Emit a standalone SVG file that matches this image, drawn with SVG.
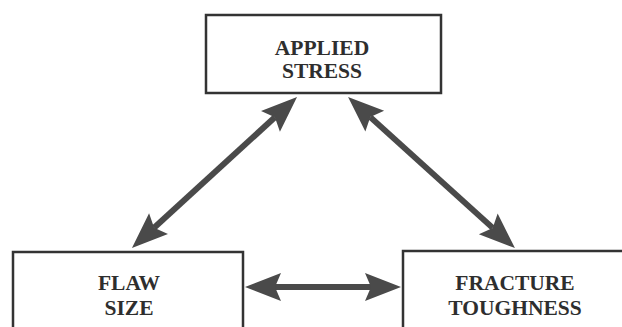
<svg xmlns="http://www.w3.org/2000/svg" width="622" height="327" viewBox="0 0 622 327">
<style>
.box{fill:#fff;stroke:#333;stroke-width:2.5}
.lbl{font-family:"Liberation Serif","DejaVu Serif",serif;font-weight:bold;font-size:21.5px;fill:#2e2e2e;text-anchor:middle}
.arr{stroke:#4a4a4a;stroke-width:6;fill:none;marker-start:url(#ah);marker-end:url(#ah)}
</style>
<defs>
<marker id="ah" markerUnits="userSpaceOnUse" viewBox="-10 -16 44 32" markerWidth="44" markerHeight="32" refX="0" refY="0" orient="auto-start-reverse">
<path d="M30,0 L-6,-14 L0,0 L-6,14 Z" fill="#4a4a4a"/>
</marker>
</defs>
<rect width="622" height="327" fill="#fff"/>
<g id="connectors">
<line class="arr" x1="154.1" y1="227.75" x2="274.9" y2="117.25"/>
<line class="arr" x1="370.3" y1="117.1" x2="492.7" y2="227.9"/>
<line class="arr" x1="275" y1="287" x2="371" y2="287"/>
</g>
<g id="applied-stress">
<rect class="box" x="206" y="15" width="235" height="78"/>
<text class="lbl" x="322" y="55">APPLIED</text>
<text class="lbl" x="322" y="78">STRESS</text>
</g>
<g id="flaw-size">
<rect class="box" x="13" y="252" width="230" height="90"/>
<text class="lbl" x="129" y="290">FLAW</text>
<text class="lbl" x="129" y="315">SIZE</text>
</g>
<g id="fracture-toughness">
<rect class="box" x="403" y="251" width="230" height="90"/>
<text class="lbl" x="515" y="290">FRACTURE</text>
<text class="lbl" x="515" y="315">TOUGHNESS</text>
</g>
</svg>
